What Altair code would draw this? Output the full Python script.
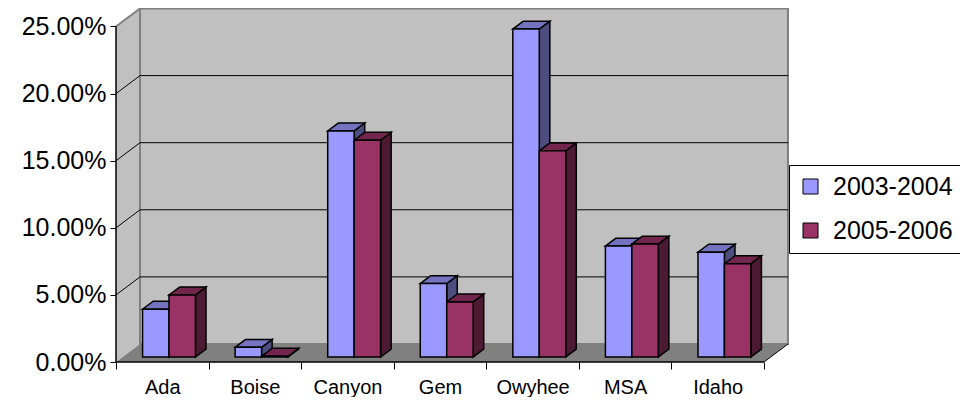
import altair as alt
import pandas as pd

# ---------------- data ----------------
categories = ["Ada", "Boise", "Canyon", "Gem", "Owyhee", "MSA", "Idaho"]
series_names = ["2003-2004", "2005-2006"]
values_2003_2004 = [3.56, 0.72, 16.84, 5.47, 24.43, 8.26, 7.81]
values_2005_2006 = [4.62, 0.05, 16.15, 4.10, 15.36, 8.41, 6.95]
y_ticks = [0, 5, 10, 15, 20, 25]

# ---------------- style ----------------
front_colors = ["#9999FF", "#993366"]
top_colors = ["#7373BF", "#73264D"]
side_colors = ["#4D4D80", "#4D1A33"]
WALL = "#C0C0C0"
FLOOR = "#808080"
WALL_EDGE = "#808080"
FONT = "Liberation Sans"

N = len(categories)
PX_PER_CAT = 92.57
PX_PER_PCT = 13.42
PLOT_W = 672
PLOT_H = 354
DX = 24 / PX_PER_CAT          # depth shift of the back plane (category units)
DY = 18 / PX_PER_PCT          # depth shift of the back plane (percent units)
W = 1 / 3.5                   # bar width (gap width 150%)
D0, D1 = 0.28, 0.72           # bar front/back depth as a fraction of the floor depth
YMAX = y_ticks[-1]

x_scale = alt.Scale(domain=[0, PLOT_W / PX_PER_CAT], nice=False, zero=False)
y_scale = alt.Scale(domain=[0, PLOT_H / PX_PER_PCT], nice=False, zero=False)

# ---------------- axes ----------------
y_axis = alt.Axis(orient="left", values=y_ticks,
                  labelExpr="format(datum.value, '.2f') + '%'",
                  domain=False, grid=False, ticks=True, tickSize=6, tickColor="black",
                  tickWidth=1, labelFont=FONT, labelFontSize=25, labelColor="black",
                  labelPadding=4, labelFlush=False, labelOverlap=False, title=None)
x_tick_axis = alt.Axis(orient="bottom", values=list(range(N + 1)), labels=False,
                       domain=False, grid=False, tickSize=7, tickColor="black",
                       tickWidth=1, title=None)
cat_js = "[" + ",".join(f"'{c}'" for c in categories) + "]"
x_label_axis = alt.Axis(orient="bottom", values=[i + 0.5 for i in range(N)],
                        labelExpr=f"{cat_js}[floor(datum.value)]",
                        ticks=False, domain=False, grid=False, labelFont=FONT,
                        labelFontSize=20, labelColor="black", labelPadding=15,
                        labelFlush=False, labelOverlap=False, title=None)


def X(field, axis=None):
    return alt.X(f"{field}:Q", scale=x_scale, axis=axis, stack=None, title=None)


def Y(field):
    # identical shared axis in every layer so the merged axis stays enabled
    return alt.Y(f"{field}:Q", scale=y_scale, axis=y_axis, stack=None, title=None)


# ---------------- geometry tables built from data ----------------
fronts, sides, tops = [], [], []
ddx, ddy = (D1 - D0) * DX, (D1 - D0) * DY
for s, vals in enumerate([values_2003_2004, values_2005_2006]):
    for i, v in enumerate(vals):
        bid = f"{s}-{i}"
        x1 = i + 0.75 * W + s * W + D0 * DX
        x2 = x1 + W
        yb = D0 * DY
        yt = yb + v
        fronts.append(dict(bid=bid, series=series_names[s], cat=categories[i],
                           value=v, x1=x1, x2=x2, yb=yb, yt=yt))
        sides.append(dict(bid=bid, fc=side_colors[s], x=x2, y=yt, y2=yb))
        sides.append(dict(bid=bid, fc=side_colors[s], x=x2 + ddx, y=yt + ddy, y2=yb + ddy))
        tops.append(dict(bid=bid, fc=top_colors[s], y=yt, x=x1, x2=x2))
        tops.append(dict(bid=bid, fc=top_colors[s], y=yt + ddy, x=x1 + ddx, x2=x2 + ddx))

df_front = pd.DataFrame(fronts)
df_side = pd.DataFrame(sides)
df_top = pd.DataFrame(tops)

df_leftwall = pd.DataFrame(dict(x=[0, DX], y=[YMAX, YMAX + DY], y2=[0, DY]))
df_floor = pd.DataFrame(dict(y=[0, DY], x=[0, DX], x2=[N, N + DX]))
df_back = pd.DataFrame(dict(x=[DX], x2=[N + DX], y=[DY], y2=[YMAX + DY]))
grid_vals = y_ticks[1:-1]
df_grid_back = pd.DataFrame(dict(x=[DX] * len(grid_vals), x2=[N + DX] * len(grid_vals),
                                 y=[g + DY for g in grid_vals]))
df_grid_left = pd.DataFrame(dict(x=[0] * len(grid_vals), x2=[DX] * len(grid_vals),
                                 y=grid_vals, y2=[g + DY for g in grid_vals]))
df_wall_top = pd.DataFrame(dict(x=[0], x2=[DX], y=[YMAX], y2=[YMAX + DY]))
df_floor_right = pd.DataFrame(dict(x=[N], x2=[N + DX], y=[0], y2=[DY]))
df_yaxis = pd.DataFrame(dict(x=[0], y=[0], y2=[YMAX]))
df_xaxis = pd.DataFrame(dict(x=[0], x2=[N], y=[0]))

# ---------------- layers ----------------
left_wall = alt.Chart(df_leftwall).mark_area(color=WALL, orient="vertical").encode(
    x=X("x"), y=Y("y"), y2="y2")
floor = alt.Chart(df_floor).mark_area(color=FLOOR, orient="horizontal").encode(
    y=Y("y"), x=X("x", x_label_axis), x2="x2")
back_wall = alt.Chart(df_back).mark_rect(fill=WALL, stroke=WALL_EDGE, strokeWidth=2).encode(
    x=X("x"), x2="x2", y=Y("y"), y2="y2")
grid_back = alt.Chart(df_grid_back).mark_rule(color="black", strokeWidth=1).encode(
    x=X("x"), x2="x2", y=Y("y"))
grid_left = alt.Chart(df_grid_left).mark_rule(color="black", strokeWidth=1).encode(
    x=X("x"), x2="x2", y=Y("y"), y2="y2")
wall_top = alt.Chart(df_wall_top).mark_rule(color=WALL_EDGE, strokeWidth=2).encode(
    x=X("x"), x2="x2", y=Y("y"), y2="y2")
floor_right = alt.Chart(df_floor_right).mark_rule(color="black", strokeWidth=1).encode(
    x=X("x"), x2="x2", y=Y("y"), y2="y2")

bar_sides = alt.Chart(df_side).mark_area(stroke="black", strokeWidth=1.5, orient="vertical",
                                         interpolate="linear", fillOpacity=1).encode(
    x=X("x"), y=Y("y"), y2="y2", detail="bid:N", fill=alt.Fill("fc:N", scale=None))
bar_tops = alt.Chart(df_top).mark_area(stroke="black", strokeWidth=1.5, orient="horizontal",
                                       interpolate="linear", fillOpacity=1).encode(
    y=Y("y"), x=X("x"), x2="x2", detail="bid:N", fill=alt.Fill("fc:N", scale=None))
bar_fronts = alt.Chart(df_front).mark_rect(stroke="black", strokeWidth=1.5, opacity=1).encode(
    x=X("x1"), x2="x2", y=Y("yb"), y2="yt",
    color=alt.Color("series:N",
                    scale=alt.Scale(domain=series_names, range=front_colors),
                    legend=alt.Legend(title=None, orient="none", legendX=673, legendY=157,
                                      direction="vertical", symbolType="square",
                                      symbolSize=225, symbolStrokeColor="black",
                                      symbolStrokeWidth=1, symbolOpacity=1,
                                      labelFont=FONT, labelFontSize=25, labelColor="black",
                                      fillColor="white", strokeColor="black", padding=9,
                                      rowPadding=18, labelOffset=10)),
    tooltip=["cat:N", "series:N", "value:Q"])

y_line = alt.Chart(df_yaxis).mark_rule(color="black", strokeWidth=1.5).encode(
    x=X("x"), y=Y("y"), y2="y2")
x_line = alt.Chart(df_xaxis).mark_rule(color="black", strokeWidth=1.5).encode(
    x=X("x", x_tick_axis), x2="x2", y=Y("y"))
right_border = alt.Chart(df_yaxis).mark_rule(color="black", strokeWidth=1.5).encode(
    x=alt.value(850), y=alt.value(0), y2=alt.value(389))

chart = alt.layer(
    left_wall, floor, back_wall, grid_back, grid_left, wall_top, floor_right,
    bar_sides, bar_tops, bar_fronts, y_line, x_line, right_border
).resolve_axis(x="independent").properties(
    width=PLOT_W, height=PLOT_H,
    padding={"left": 108, "top": 0, "right": 172, "bottom": 35},
    autosize=alt.AutoSizeParams(type="none"),
    background="white",
).configure_view(stroke=None)

chart.save("out.html", embed_options={"renderer": "svg", "actions": False})
